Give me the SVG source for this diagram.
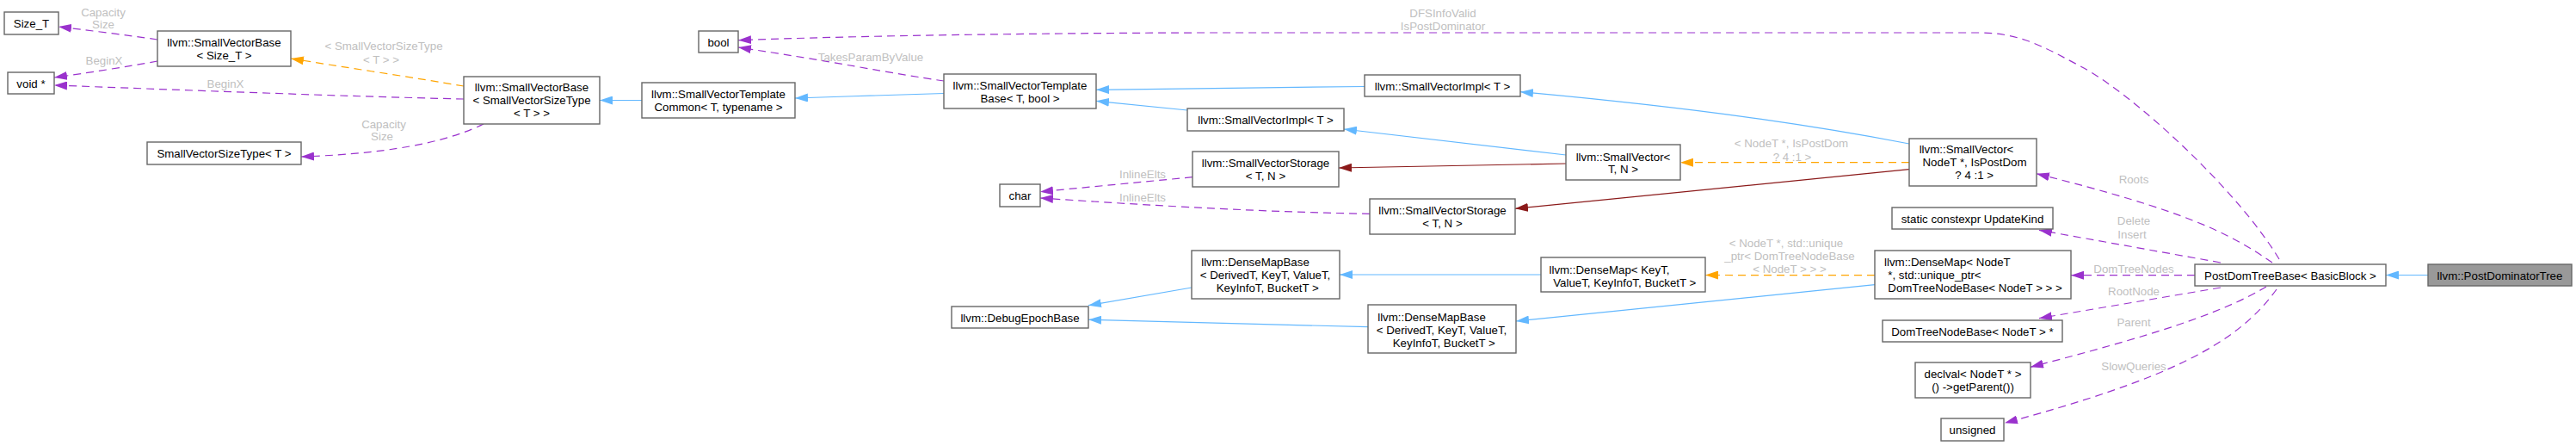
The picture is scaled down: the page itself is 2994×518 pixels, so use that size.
<svg xmlns="http://www.w3.org/2000/svg" width="2994" height="518" viewBox="0 0 2994 518">
<style>
text{font-family:"Liberation Sans",Arial,Helvetica,sans-serif;font-size:13.3px;fill:#000;text-anchor:middle}
.n rect{fill:#fff;stroke:#666;stroke-width:1.4}
.n.hl rect{fill:#999}
.e{fill:none;stroke-width:1.2}
.blue{stroke:#63b8ff;marker-end:url(#aBlue)}
.purp{stroke:#9a32cd;stroke-dasharray:9,6;marker-end:url(#aPurp)}
.orng{stroke:#ffa500;stroke-dasharray:9,6;marker-end:url(#aOrng)}
.red{stroke:#8b1a1a;marker-end:url(#aRed)}
.lbl{fill:#c0c0c0}
</style>
<defs>
<marker id="aBlue" viewBox="0 0 15 10" refX="15" refY="5" markerWidth="15" markerHeight="10" markerUnits="userSpaceOnUse" orient="auto"><path d="M0,0 L15,5 L0,10 z" fill="#63b8ff"/></marker>
<marker id="aPurp" viewBox="0 0 15 10" refX="15" refY="5" markerWidth="15" markerHeight="10" markerUnits="userSpaceOnUse" orient="auto"><path d="M0,0 L15,5 L0,10 z" fill="#9a32cd"/></marker>
<marker id="aOrng" viewBox="0 0 15 10" refX="15" refY="5" markerWidth="15" markerHeight="10" markerUnits="userSpaceOnUse" orient="auto"><path d="M0,0 L15,5 L0,10 z" fill="#ffa500"/></marker>
<marker id="aRed" viewBox="0 0 15 10" refX="15" refY="5" markerWidth="15" markerHeight="10" markerUnits="userSpaceOnUse" orient="auto"><path d="M0,0 L15,5 L0,10 z" fill="#8b1a1a"/></marker>
</defs>
<rect width="2994" height="518" fill="#fff"/>
<g id="connectors">
<path class="e purp" d="M183,46 C150,41 100,35 68,31"/>
<text class="lbl" x="120" y="18.5">Capacity</text><text class="lbl" x="120" y="33">Size</text>
<path class="e purp" d="M183,71 C150,77 100,85 63,90"/>
<text class="lbl" x="121" y="75">BeginX</text>
<path class="e purp" d="M539,115 C400,112 200,104 63,99"/>
<text class="lbl" x="262" y="102">BeginX</text>
<path class="e orng" d="M539,100 C480,90 400,78 338,68"/>
<text class="lbl" x="446" y="57.5">&lt; SmallVectorSizeType</text><text class="lbl" x="443" y="73.5">&lt; T &gt; &gt;</text>
<path class="e purp" d="M562,144 C530,160 470,178 350,182"/>
<text class="lbl" x="446" y="148.5">Capacity</text><text class="lbl" x="444" y="163">Size</text>
<path class="e blue" d="M746,116.5 L697,116.5"/>
<path class="e blue" d="M1097,108.5 C1050,110 980,112 924,114"/>
<path class="e purp" d="M1097,94 C1040,86 960,70 858,55"/>
<text class="lbl" x="1012" y="70.5">TakesParamByValue</text>
<path class="e blue" d="M1586,100.5 C1480,101.5 1380,103 1274,104.3"/>
<path class="e blue" d="M1380,128 L1274,117.3"/>
<path class="e blue" d="M1820,180 L1562,150"/>
<path class="e red" d="M1820,190 L1556,195"/>
<path class="e purp" d="M1386,205.7 L1209,222.7"/>
<text class="lbl" x="1328" y="206.7">InlineElts</text>
<path class="e purp" d="M1592,248.3 C1450,246 1300,236 1209,230"/>
<text class="lbl" x="1328" y="233.7">InlineElts</text>
<path class="e blue" d="M2219,167 C2130,150 2000,128 1767,106.7"/>
<path class="e orng" d="M2219,188.7 L1953,188.7"/>
<text class="lbl" x="2082" y="171">&lt; NodeT *, IsPostDom</text><text class="lbl" x="2083" y="186.5">? 4 :1 &gt;</text>
<path class="e red" d="M2219,196.7 L1761,242.3"/>
<path class="e purp" d="M2649,301 C2600,220 2480,110 2420,78 C2380,57 2350,38 2300,38 L1400,38 C1200,38.5 1000,41.5 858,46.7"/>
<text class="lbl" x="1677" y="19.8">DFSInfoValid</text><text class="lbl" x="1677" y="34.8">IsPostDominator</text>
<path class="e purp" d="M2641,305 C2590,270 2540,245 2367,201.7"/>
<text class="lbl" x="2480" y="213">Roots</text>
<path class="e purp" d="M2581,305 L2370,267.3"/>
<text class="lbl" x="2480" y="260.5">Delete</text><text class="lbl" x="2478" y="277">Insert</text>
<path class="e purp" d="M2551,319.7 L2407,319.7"/>
<text class="lbl" x="2480" y="316.7">DomTreeNodes</text>
<path class="e purp" d="M2581,334 L2370,369.7"/>
<text class="lbl" x="2480" y="342.5">RootNode</text>
<path class="e purp" d="M2634,333 C2580,365 2500,390 2360,426.3"/>
<text class="lbl" x="2480" y="379">Parent</text>
<path class="e purp" d="M2646,336 C2600,400 2520,440 2330,491.3"/>
<text class="lbl" x="2480" y="430">SlowQueries</text>
<path class="e blue" d="M2822,319.5 L2773,319.5"/>
<path class="e orng" d="M2179,319.7 L1982,319.5"/>
<text class="lbl" x="2076" y="286.7">&lt; NodeT *, std::unique</text><text class="lbl" x="2080" y="301.7">_ptr&lt; DomTreeNodeBase</text><text class="lbl" x="2080" y="317">&lt; NodeT &gt; &gt; &gt;</text>
<path class="e blue" d="M2179,330.7 L1762,373"/>
<path class="e blue" d="M1791,319 L1557,319"/>
<path class="e blue" d="M1385,334 L1265,354.7"/>
<path class="e blue" d="M1590,379.7 L1265,371.3"/>
</g>
<g id="n_size_t" class="n"><rect x="5" y="14" width="63" height="26"/><text x="36.5" y="32">Size_T</text></g>
<g id="n_void" class="n"><rect x="9" y="84" width="54" height="25"/><text x="36" y="101.5">void *</text></g>
<g id="n_svb_size_t" class="n"><rect x="183" y="36" width="155" height="41"/><text x="260.5" y="54">llvm::SmallVectorBase</text><text x="260.5" y="69">&lt; Size_T &gt;</text></g>
<g id="n_svst" class="n"><rect x="171" y="165" width="179" height="26"/><text x="260.5" y="183">SmallVectorSizeType&lt; T &gt;</text></g>
<g id="n_svb_svst" class="n"><rect x="539" y="89" width="158" height="55"/><text x="618" y="106.3">llvm::SmallVectorBase</text><text x="618" y="121.3">&lt; SmallVectorSizeType</text><text x="618" y="136.3">&lt; T &gt; &gt;</text></g>
<g id="n_svtc" class="n"><rect x="746" y="96" width="178" height="41"/><text x="835" y="114.3">llvm::SmallVectorTemplate</text><text x="835" y="129.3">Common&lt; T, typename &gt;</text></g>
<g id="n_bool" class="n"><rect x="812" y="36" width="46" height="25"/><text x="835" y="53.5">bool</text></g>
<g id="n_svtb" class="n"><rect x="1097" y="86" width="177" height="40"/><text x="1185.5" y="103.5">llvm::SmallVectorTemplate</text><text x="1185.5" y="118.5">Base&lt; T, bool &gt;</text></g>
<g id="n_svimpl_a" class="n"><rect x="1586" y="87" width="181" height="25"/><text x="1676.5" y="104.5">llvm::SmallVectorImpl&lt; T &gt;</text></g>
<g id="n_svimpl_b" class="n"><rect x="1380" y="126" width="182" height="26"/><text x="1471" y="144">llvm::SmallVectorImpl&lt; T &gt;</text></g>
<g id="n_svstorage_a" class="n"><rect x="1386" y="176" width="170" height="41"/><text x="1471" y="194">llvm::SmallVectorStorage</text><text x="1471" y="209">&lt; T, N &gt;</text></g>
<g id="n_svstorage_b" class="n"><rect x="1592" y="231" width="169" height="41"/><text x="1676.5" y="249">llvm::SmallVectorStorage</text><text x="1676.5" y="264">&lt; T, N &gt;</text></g>
<g id="n_char" class="n"><rect x="1162" y="214" width="47" height="26"/><text x="1185.5" y="232">char</text></g>
<g id="n_sv_tn" class="n"><rect x="1820" y="168" width="133" height="41"/><text x="1886.5" y="186.5">llvm::SmallVector&lt;</text><text x="1886.5" y="201.2">T, N &gt;</text></g>
<g id="n_sv_nodet" class="n"><rect x="2219" y="161" width="148" height="55"/><text x="2285.5" y="178.3">llvm::SmallVector&lt;</text><text x="2295" y="193.3">NodeT *, IsPostDom</text><text x="2294.7" y="208.3">? 4 :1 &gt;</text></g>
<g id="n_updatekind" class="n"><rect x="2199" y="241" width="187" height="25"/><text x="2292.5" y="258.5">static constexpr UpdateKind</text></g>
<g id="n_densemap_nodet" class="n"><rect x="2179" y="291" width="228" height="56"/><text x="2190" y="309.2" style="text-anchor:start">llvm::DenseMap&lt; NodeT</text><text x="2194.3" y="324.2" style="text-anchor:start">*, std::unique_ptr&lt;</text><text x="2194.3" y="339.2" style="text-anchor:start">DomTreeNodeBase&lt; NodeT &gt; &gt; &gt;</text></g>
<g id="n_domtreenodebase" class="n"><rect x="2188" y="372" width="209" height="25"/><text x="2292.5" y="389.5">DomTreeNodeBase&lt; NodeT &gt; *</text></g>
<g id="n_declval" class="n"><rect x="2226" y="421" width="134" height="41"/><text x="2293" y="439.3">declval&lt; NodeT * &gt;</text><text x="2293" y="454.3">() -&gt;getParent())</text></g>
<g id="n_unsigned" class="n"><rect x="2256" y="486" width="73" height="26"/><text x="2292.5" y="504">unsigned</text></g>
<g id="n_postdomtreebase" class="n"><rect x="2551" y="307" width="222" height="25"/><text x="2662" y="324.5">PostDomTreeBase&lt; BasicBlock &gt;</text></g>
<g id="n_postdominatortree" class="n hl"><rect x="2822" y="307" width="167" height="25"/><text x="2905.5" y="324.5">llvm::PostDominatorTree</text></g>
<g id="n_debugepochbase" class="n"><rect x="1106" y="356" width="159" height="25"/><text x="1185.5" y="373.5">llvm::DebugEpochBase</text></g>
<g id="n_densemapbase_a" class="n"><rect x="1385" y="291" width="172" height="56"/><text x="1459" y="309.2">llvm::DenseMapBase</text><text x="1470.5" y="324.2">&lt; DerivedT, KeyT, ValueT,</text><text x="1473.3" y="339.2">KeyInfoT, BucketT &gt;</text></g>
<g id="n_densemap_keyt" class="n"><rect x="1791" y="299" width="191" height="40"/><text x="1870.5" y="317.5">llvm::DenseMap&lt; KeyT,</text><text x="1888.3" y="332.5">ValueT, KeyInfoT, BucketT &gt;</text></g>
<g id="n_densemapbase_b" class="n"><rect x="1590" y="354" width="172" height="56"/><text x="1664" y="372.5">llvm::DenseMapBase</text><text x="1675.5" y="387.5">&lt; DerivedT, KeyT, ValueT,</text><text x="1678.3" y="402.5">KeyInfoT, BucketT &gt;</text></g>
</svg>
